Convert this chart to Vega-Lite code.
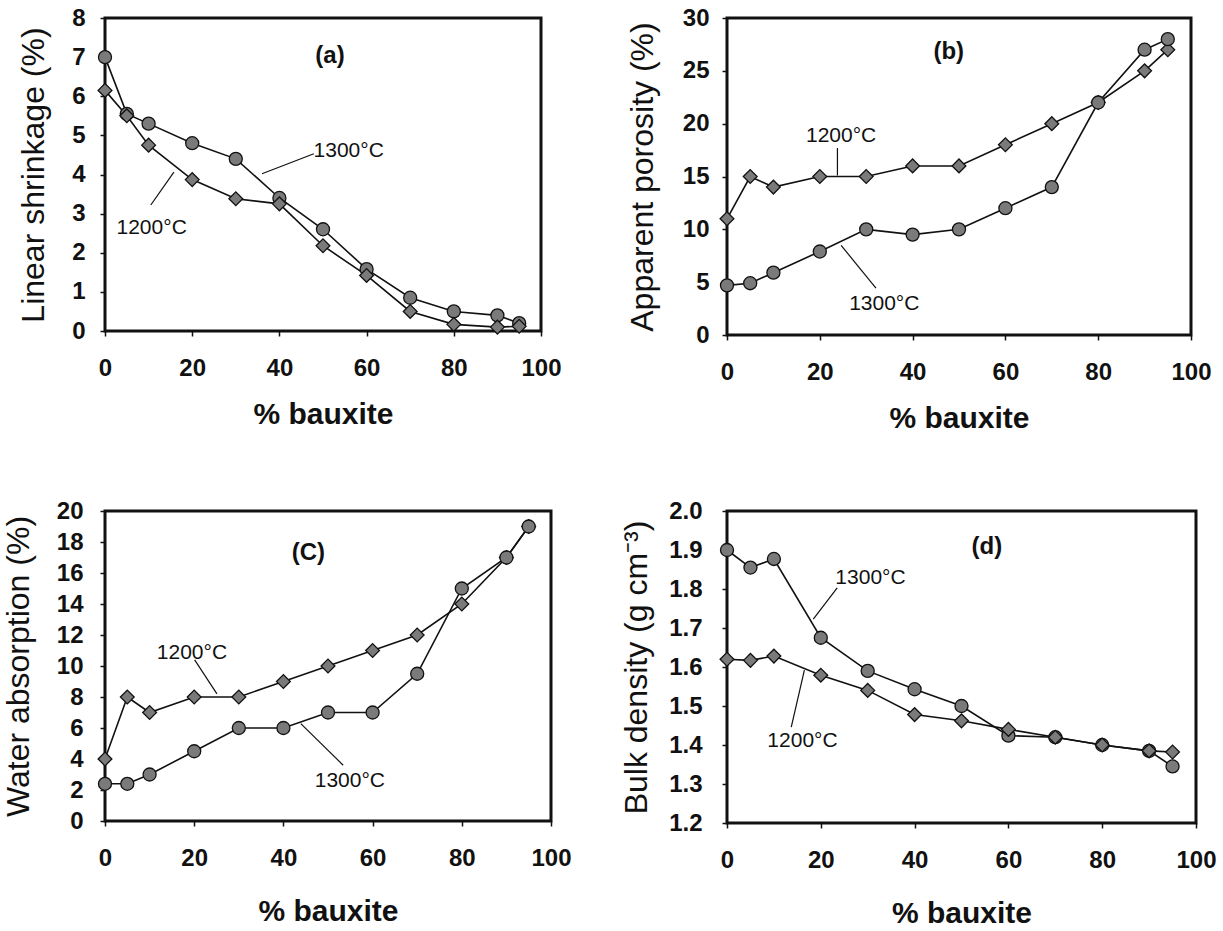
{
  "$schema": "https://vega.github.io/schema/vega-lite/v6.json",
  "padding": {"left": 0, "top": 4, "right": 5, "bottom": 5},
  "background": "white",
  "columns": 2,
  "bounds": "flush",
  "spacing": {"row": 176, "column": 176},
  "datasets": {
    "pts": [
      {"panel": "a", "temp": "1300°C", "x": 0, "y": 7.0},
      {"panel": "a", "temp": "1300°C", "x": 5, "y": 5.55},
      {"panel": "a", "temp": "1300°C", "x": 10, "y": 5.3},
      {"panel": "a", "temp": "1300°C", "x": 20, "y": 4.8},
      {"panel": "a", "temp": "1300°C", "x": 30, "y": 4.4},
      {"panel": "a", "temp": "1300°C", "x": 40, "y": 3.4},
      {"panel": "a", "temp": "1300°C", "x": 50, "y": 2.6},
      {"panel": "a", "temp": "1300°C", "x": 60, "y": 1.58},
      {"panel": "a", "temp": "1300°C", "x": 70, "y": 0.85},
      {"panel": "a", "temp": "1300°C", "x": 80, "y": 0.5},
      {"panel": "a", "temp": "1300°C", "x": 90, "y": 0.4},
      {"panel": "a", "temp": "1300°C", "x": 95, "y": 0.2},
      {"panel": "a", "temp": "1200°C", "x": 0, "y": 6.15},
      {"panel": "a", "temp": "1200°C", "x": 5, "y": 5.5},
      {"panel": "a", "temp": "1200°C", "x": 10, "y": 4.75},
      {"panel": "a", "temp": "1200°C", "x": 20, "y": 3.87},
      {"panel": "a", "temp": "1200°C", "x": 30, "y": 3.38},
      {"panel": "a", "temp": "1200°C", "x": 40, "y": 3.25},
      {"panel": "a", "temp": "1200°C", "x": 50, "y": 2.18},
      {"panel": "a", "temp": "1200°C", "x": 60, "y": 1.42},
      {"panel": "a", "temp": "1200°C", "x": 70, "y": 0.5},
      {"panel": "a", "temp": "1200°C", "x": 80, "y": 0.17},
      {"panel": "a", "temp": "1200°C", "x": 90, "y": 0.1},
      {"panel": "a", "temp": "1200°C", "x": 95, "y": 0.12},
      {"panel": "b", "temp": "1200°C", "x": 0, "y": 11},
      {"panel": "b", "temp": "1200°C", "x": 5, "y": 15},
      {"panel": "b", "temp": "1200°C", "x": 10, "y": 14},
      {"panel": "b", "temp": "1200°C", "x": 20, "y": 15},
      {"panel": "b", "temp": "1200°C", "x": 30, "y": 15},
      {"panel": "b", "temp": "1200°C", "x": 40, "y": 16},
      {"panel": "b", "temp": "1200°C", "x": 50, "y": 16},
      {"panel": "b", "temp": "1200°C", "x": 60, "y": 18},
      {"panel": "b", "temp": "1200°C", "x": 70, "y": 20},
      {"panel": "b", "temp": "1200°C", "x": 80, "y": 22},
      {"panel": "b", "temp": "1200°C", "x": 90, "y": 25},
      {"panel": "b", "temp": "1200°C", "x": 95, "y": 27},
      {"panel": "b", "temp": "1300°C", "x": 0, "y": 4.7},
      {"panel": "b", "temp": "1300°C", "x": 5, "y": 4.9},
      {"panel": "b", "temp": "1300°C", "x": 10, "y": 5.9},
      {"panel": "b", "temp": "1300°C", "x": 20, "y": 7.9},
      {"panel": "b", "temp": "1300°C", "x": 30, "y": 10},
      {"panel": "b", "temp": "1300°C", "x": 40, "y": 9.5},
      {"panel": "b", "temp": "1300°C", "x": 50, "y": 10},
      {"panel": "b", "temp": "1300°C", "x": 60, "y": 12},
      {"panel": "b", "temp": "1300°C", "x": 70, "y": 14},
      {"panel": "b", "temp": "1300°C", "x": 80, "y": 22},
      {"panel": "b", "temp": "1300°C", "x": 90, "y": 27},
      {"panel": "b", "temp": "1300°C", "x": 95, "y": 28},
      {"panel": "c", "temp": "1200°C", "x": 0, "y": 4},
      {"panel": "c", "temp": "1200°C", "x": 5, "y": 8},
      {"panel": "c", "temp": "1200°C", "x": 10, "y": 7},
      {"panel": "c", "temp": "1200°C", "x": 20, "y": 8},
      {"panel": "c", "temp": "1200°C", "x": 30, "y": 8},
      {"panel": "c", "temp": "1200°C", "x": 40, "y": 9},
      {"panel": "c", "temp": "1200°C", "x": 50, "y": 10},
      {"panel": "c", "temp": "1200°C", "x": 60, "y": 11},
      {"panel": "c", "temp": "1200°C", "x": 70, "y": 12},
      {"panel": "c", "temp": "1200°C", "x": 80, "y": 14},
      {"panel": "c", "temp": "1200°C", "x": 90, "y": 17},
      {"panel": "c", "temp": "1200°C", "x": 95, "y": 19},
      {"panel": "c", "temp": "1300°C", "x": 0, "y": 2.4},
      {"panel": "c", "temp": "1300°C", "x": 5, "y": 2.4},
      {"panel": "c", "temp": "1300°C", "x": 10, "y": 3},
      {"panel": "c", "temp": "1300°C", "x": 20, "y": 4.5},
      {"panel": "c", "temp": "1300°C", "x": 30, "y": 6},
      {"panel": "c", "temp": "1300°C", "x": 40, "y": 6},
      {"panel": "c", "temp": "1300°C", "x": 50, "y": 7},
      {"panel": "c", "temp": "1300°C", "x": 60, "y": 7},
      {"panel": "c", "temp": "1300°C", "x": 70, "y": 9.5},
      {"panel": "c", "temp": "1300°C", "x": 80, "y": 15},
      {"panel": "c", "temp": "1300°C", "x": 90, "y": 17},
      {"panel": "c", "temp": "1300°C", "x": 95, "y": 19},
      {"panel": "d", "temp": "1300°C", "x": 0, "y": 1.9},
      {"panel": "d", "temp": "1300°C", "x": 5, "y": 1.855},
      {"panel": "d", "temp": "1300°C", "x": 10, "y": 1.877},
      {"panel": "d", "temp": "1300°C", "x": 20, "y": 1.675},
      {"panel": "d", "temp": "1300°C", "x": 30, "y": 1.59},
      {"panel": "d", "temp": "1300°C", "x": 40, "y": 1.543},
      {"panel": "d", "temp": "1300°C", "x": 50, "y": 1.5},
      {"panel": "d", "temp": "1300°C", "x": 60, "y": 1.424},
      {"panel": "d", "temp": "1300°C", "x": 70, "y": 1.42},
      {"panel": "d", "temp": "1300°C", "x": 80, "y": 1.4},
      {"panel": "d", "temp": "1300°C", "x": 90, "y": 1.385},
      {"panel": "d", "temp": "1300°C", "x": 95, "y": 1.345},
      {"panel": "d", "temp": "1200°C", "x": 0, "y": 1.62},
      {"panel": "d", "temp": "1200°C", "x": 5, "y": 1.617},
      {"panel": "d", "temp": "1200°C", "x": 10, "y": 1.628},
      {"panel": "d", "temp": "1200°C", "x": 20, "y": 1.579},
      {"panel": "d", "temp": "1200°C", "x": 30, "y": 1.54},
      {"panel": "d", "temp": "1200°C", "x": 40, "y": 1.478},
      {"panel": "d", "temp": "1200°C", "x": 50, "y": 1.462},
      {"panel": "d", "temp": "1200°C", "x": 60, "y": 1.44},
      {"panel": "d", "temp": "1200°C", "x": 70, "y": 1.42},
      {"panel": "d", "temp": "1200°C", "x": 80, "y": 1.4},
      {"panel": "d", "temp": "1200°C", "x": 90, "y": 1.385},
      {"panel": "d", "temp": "1200°C", "x": 95, "y": 1.382}
    ],
    "ann": [
      {"panel": "a", "label": "1300°C", "x": 55.9, "y": 4.61},
      {"panel": "a", "label": "1200°C", "x": 10.7, "y": 2.62},
      {"panel": "b", "label": "1200°C", "x": 24.6, "y": 18.8},
      {"panel": "b", "label": "1300°C", "x": 33.9, "y": 2.94},
      {"panel": "c", "label": "1200°C", "x": 19.5, "y": 10.85},
      {"panel": "c", "label": "1300°C", "x": 54.9, "y": 2.55},
      {"panel": "d", "label": "1300°C", "x": 30.6, "y": 1.829},
      {"panel": "d", "label": "1200°C", "x": 16.1, "y": 1.411}
    ],
    "tags": [
      {"panel": "a", "label": "(a)", "x": 51.6, "y": 7.03},
      {"panel": "b", "label": "(b)", "x": 47.8, "y": 26.8},
      {"panel": "c", "label": "(C)", "x": 45.6, "y": 17.3},
      {"panel": "d", "label": "(d)", "x": 55.4, "y": 1.907}
    ],
    "lead": [
      {"panel": "a", "x": 47.9, "y": 4.53, "x2": 36.0, "y2": 4.02},
      {"panel": "a", "x": 10.5, "y": 3.22, "x2": 15.8, "y2": 4.06},
      {"panel": "b", "x": 23.8, "y": 17.7, "x2": 23.8, "y2": 15.1},
      {"panel": "b", "x": 32.1, "y": 4.43, "x2": 24.6, "y2": 8.48},
      {"panel": "c", "x": 20.1, "y": 10.4, "x2": 25.1, "y2": 8.2},
      {"panel": "c", "x": 53.4, "y": 3.6, "x2": 43.9, "y2": 6.28},
      {"panel": "d", "x": 23.5, "y": 1.803, "x2": 18.4, "y2": 1.723},
      {"panel": "d", "x": 13.7, "y": 1.446, "x2": 16.5, "y2": 1.592}
    ]
  },
  "concat": [
    {
      "width": 436, "height": 313,
      "encoding": {
        "x": {"field": "x", "type": "quantitative", "scale": {"domain": [0, 100], "nice": false},
              "axis": {"values": [0, 20, 40, 60, 80, 100], "title": "% bauxite", "labelPadding": 20, "titlePadding": 19}},
        "y": {"field": "y", "type": "quantitative", "scale": {"domain": [0, 8], "nice": false},
              "axis": {"values": [0, 1, 2, 3, 4, 5, 6, 7, 8], "title": "Linear shrinkage (%)", "labelPadding": 15, "titlePadding": 21}}
      },
      "layer": [
        {"data": {"name": "pts"}, "transform": [{"filter": {"field": "panel", "equal": "a"}}],
         "mark": {"type": "line", "color": "#111", "strokeWidth": 1.6}, "encoding": {"detail": {"field": "temp"}}},
        {"data": {"name": "pts"}, "transform": [{"filter": {"field": "panel", "equal": "a"}}],
         "mark": {"type": "point", "filled": true, "fill": "#7a7a7a", "stroke": "#111", "strokeWidth": 1.3, "opacity": 1},
         "encoding": {"shape": {"field": "temp", "scale": {"domain": ["1200°C", "1300°C"], "range": ["diamond", "circle"]}, "legend": null},
                      "size": {"field": "temp", "scale": {"domain": ["1200°C", "1300°C"], "range": [190, 170]}, "legend": null}}},
        {"data": {"name": "lead"}, "transform": [{"filter": {"field": "panel", "equal": "a"}}],
         "mark": {"type": "rule", "color": "#111", "strokeWidth": 1.2}, "encoding": {"x2": {"field": "x2"}, "y2": {"field": "y2"}}},
        {"data": {"name": "ann"}, "transform": [{"filter": {"field": "panel", "equal": "a"}}],
         "mark": {"type": "text", "fontSize": 21, "font": "Liberation Sans", "color": "#111"}, "encoding": {"text": {"field": "label"}}},
        {"data": {"name": "tags"}, "transform": [{"filter": {"field": "panel", "equal": "a"}}],
         "mark": {"type": "text", "fontSize": 24, "fontWeight": "bold", "font": "Liberation Sans", "color": "#111"}, "encoding": {"text": {"field": "label"}}}
      ]
    },
    {
      "width": 464, "height": 317,
      "encoding": {
        "x": {"field": "x", "type": "quantitative", "scale": {"domain": [0, 100], "nice": false},
              "axis": {"values": [0, 20, 40, 60, 80, 100], "title": "% bauxite", "labelPadding": 20, "titlePadding": 19}},
        "y": {"field": "y", "type": "quantitative", "scale": {"domain": [0, 30], "nice": false},
              "axis": {"values": [0, 5, 10, 15, 20, 25, 30], "title": "Apparent porosity (%)", "labelPadding": 13, "titlePadding": 23}}
      },
      "layer": [
        {"data": {"name": "pts"}, "transform": [{"filter": {"field": "panel", "equal": "b"}}],
         "mark": {"type": "line", "color": "#111", "strokeWidth": 1.6}, "encoding": {"detail": {"field": "temp"}}},
        {"data": {"name": "pts"}, "transform": [{"filter": {"field": "panel", "equal": "b"}}],
         "mark": {"type": "point", "filled": true, "fill": "#7a7a7a", "stroke": "#111", "strokeWidth": 1.3, "opacity": 1},
         "encoding": {"shape": {"field": "temp", "scale": {"domain": ["1200°C", "1300°C"], "range": ["diamond", "circle"]}, "legend": null},
                      "size": {"field": "temp", "scale": {"domain": ["1200°C", "1300°C"], "range": [190, 170]}, "legend": null}}},
        {"data": {"name": "lead"}, "transform": [{"filter": {"field": "panel", "equal": "b"}}],
         "mark": {"type": "rule", "color": "#111", "strokeWidth": 1.2}, "encoding": {"x2": {"field": "x2"}, "y2": {"field": "y2"}}},
        {"data": {"name": "ann"}, "transform": [{"filter": {"field": "panel", "equal": "b"}}],
         "mark": {"type": "text", "fontSize": 21, "font": "Liberation Sans", "color": "#111"}, "encoding": {"text": {"field": "label"}}},
        {"data": {"name": "tags"}, "transform": [{"filter": {"field": "panel", "equal": "b"}}],
         "mark": {"type": "text", "fontSize": 24, "fontWeight": "bold", "font": "Liberation Sans", "color": "#111"}, "encoding": {"text": {"field": "label"}}}
      ]
    },
    {
      "width": 446, "height": 310,
      "encoding": {
        "x": {"field": "x", "type": "quantitative", "scale": {"domain": [0, 100], "nice": false},
              "axis": {"values": [0, 20, 40, 60, 80, 100], "title": "% bauxite", "labelPadding": 20, "titlePadding": 26}},
        "y": {"field": "y", "type": "quantitative", "scale": {"domain": [0, 20], "nice": false},
              "axis": {"values": [0, 2, 4, 6, 8, 10, 12, 14, 16, 18, 20], "title": "Water absorption (%)", "labelPadding": 17, "titlePadding": 21}}
      },
      "layer": [
        {"data": {"name": "pts"}, "transform": [{"filter": {"field": "panel", "equal": "c"}}],
         "mark": {"type": "line", "color": "#111", "strokeWidth": 1.6}, "encoding": {"detail": {"field": "temp"}}},
        {"data": {"name": "pts"}, "transform": [{"filter": {"field": "panel", "equal": "c"}}],
         "mark": {"type": "point", "filled": true, "fill": "#7a7a7a", "stroke": "#111", "strokeWidth": 1.3, "opacity": 1},
         "encoding": {"shape": {"field": "temp", "scale": {"domain": ["1200°C", "1300°C"], "range": ["diamond", "circle"]}, "legend": null},
                      "size": {"field": "temp", "scale": {"domain": ["1200°C", "1300°C"], "range": [190, 170]}, "legend": null}}},
        {"data": {"name": "lead"}, "transform": [{"filter": {"field": "panel", "equal": "c"}}],
         "mark": {"type": "rule", "color": "#111", "strokeWidth": 1.2}, "encoding": {"x2": {"field": "x2"}, "y2": {"field": "y2"}}},
        {"data": {"name": "ann"}, "transform": [{"filter": {"field": "panel", "equal": "c"}}],
         "mark": {"type": "text", "fontSize": 21, "font": "Liberation Sans", "color": "#111"}, "encoding": {"text": {"field": "label"}}},
        {"data": {"name": "tags"}, "transform": [{"filter": {"field": "panel", "equal": "c"}}],
         "mark": {"type": "text", "fontSize": 24, "fontWeight": "bold", "font": "Liberation Sans", "color": "#111"}, "encoding": {"text": {"field": "label"}}}
      ]
    },
    {
      "width": 469, "height": 312,
      "encoding": {
        "x": {"field": "x", "type": "quantitative", "scale": {"domain": [0, 100], "nice": false},
              "axis": {"values": [0, 20, 40, 60, 80, 100], "title": "% bauxite", "labelPadding": 20, "titlePadding": 26}},
        "y": {"field": "y", "type": "quantitative", "scale": {"domain": [1.2, 2.0], "nice": false, "zero": false},
              "axis": {"values": [1.2, 1.3, 1.4, 1.5, 1.6, 1.7, 1.8, 1.9, 2.0], "format": ".1f", "title": "Bulk density (g cm⁻³)", "labelPadding": 20, "titlePadding": 15}}
      },
      "layer": [
        {"data": {"name": "pts"}, "transform": [{"filter": {"field": "panel", "equal": "d"}}],
         "mark": {"type": "line", "color": "#111", "strokeWidth": 1.6}, "encoding": {"detail": {"field": "temp"}}},
        {"data": {"name": "pts"}, "transform": [{"filter": {"field": "panel", "equal": "d"}}],
         "mark": {"type": "point", "filled": true, "fill": "#7a7a7a", "stroke": "#111", "strokeWidth": 1.3, "opacity": 1},
         "encoding": {"shape": {"field": "temp", "scale": {"domain": ["1200°C", "1300°C"], "range": ["diamond", "circle"]}, "legend": null},
                      "size": {"field": "temp", "scale": {"domain": ["1200°C", "1300°C"], "range": [190, 170]}, "legend": null}}},
        {"data": {"name": "lead"}, "transform": [{"filter": {"field": "panel", "equal": "d"}}],
         "mark": {"type": "rule", "color": "#111", "strokeWidth": 1.2}, "encoding": {"x2": {"field": "x2"}, "y2": {"field": "y2"}}},
        {"data": {"name": "ann"}, "transform": [{"filter": {"field": "panel", "equal": "d"}}],
         "mark": {"type": "text", "fontSize": 21, "font": "Liberation Sans", "color": "#111"}, "encoding": {"text": {"field": "label"}}},
        {"data": {"name": "tags"}, "transform": [{"filter": {"field": "panel", "equal": "d"}}],
         "mark": {"type": "text", "fontSize": 24, "fontWeight": "bold", "font": "Liberation Sans", "color": "#111"}, "encoding": {"text": {"field": "label"}}}
      ]
    }
  ],
  "resolve": {"scale": {"shape": "independent", "size": "independent"}},
  "config": {
    "font": "Liberation Sans",
    "view": {"stroke": "#111", "strokeWidth": 3},
    "axis": {
      "grid": false, "domain": false,
      "labelFont": "Liberation Sans", "labelFontSize": 24, "labelFontWeight": "bold", "labelColor": "#111",
      "labelFlush": false, "labelOverlap": false,
      "titleFont": "Liberation Sans", "titleColor": "#111",
      "tickColor": "#111", "tickSize": 5, "tickWidth": 1.5
    },
    "axisX": {"titleFontSize": 30, "titleFontWeight": "bold"},
    "axisY": {"titleFontSize": 32, "titleFontWeight": "normal"}
  }
}
